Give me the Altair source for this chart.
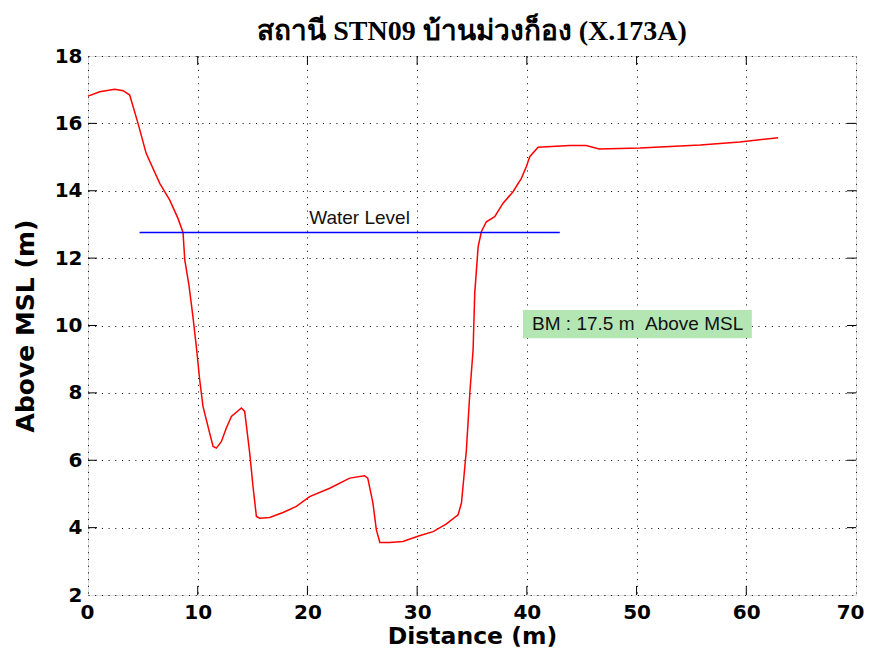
import altair as alt
import pandas as pd

# Cross-section profile (Distance m, Elevation m above MSL)
dist = [0.0, 1.07, 2.43, 3.2, 3.8, 4.56, 5.3, 6.54, 7.44, 8.2, 8.66, 8.82, 9.2, 9.55, 9.9,
        10.18, 10.48, 10.94, 11.4, 11.7, 12.16, 12.6, 13.07, 13.98, 14.28, 14.74, 15.04,
        15.35, 15.65, 16.56, 17.78, 18.99, 20.2, 22.03, 23.85, 25.2, 25.5, 25.97, 26.28,
        26.6, 27.5, 28.7, 30.2, 31.46, 32.67, 33.73, 34.04, 34.49, 34.8, 35.1, 35.25,
        35.56, 35.86, 36.31, 37.07, 37.83, 38.74, 39.5, 39.96, 40.26, 41.02, 43.9, 45.4,
        46.6, 50.3, 55.8, 59.4, 62.9]
elev = [16.81, 16.94, 17.01, 16.97, 16.84, 16.0, 15.11, 14.22, 13.73, 13.18, 12.76, 11.95,
        11.2, 10.3, 9.3, 8.39, 7.6, 7.0, 6.41, 6.36, 6.56, 6.95, 7.3, 7.55, 7.45, 6.21,
        5.22, 4.33, 4.28, 4.3, 4.45, 4.63, 4.92, 5.17, 5.47, 5.54, 5.47, 4.73, 3.94, 3.56,
        3.56, 3.59, 3.76, 3.88, 4.11, 4.38, 4.73, 6.31, 7.99, 9.28, 10.96, 12.34, 12.79,
        13.08, 13.23, 13.63, 13.97, 14.37, 14.72, 15.01, 15.29, 15.34, 15.34, 15.24, 15.27,
        15.36, 15.45, 15.57]

water_x = [4.7, 43.0]
water_level = 12.76
water_label = "Water Level"
water_label_pos = [24.75, 13.2]

bm_label = "BM : 17.5 m \u00a0Above MSL"
bm_label_pos = [50.1, 10.05]
bm_box_x = [39.65, 60.5]
bm_box_y = [9.62, 10.46]

x_ticks = [0, 10, 20, 30, 40, 50, 60, 70]
y_ticks = [2, 4, 6, 8, 10, 12, 14, 16, 18]
x_inner = [10, 20, 30, 40, 50, 60]
y_inner = [4, 6, 8, 10, 12, 14, 16]

title = "สถานี STN09 บ้านม่วงก็อง (X.173A)"

W, H = 768, 539

xs = alt.Scale(domain=[0, 70], nice=False, zero=False)
ys = alt.Scale(domain=[2, 18], nice=False, zero=False)

prof = pd.DataFrame({"d": dist, "e": elev})
wl = pd.DataFrame({"d": water_x, "e": [water_level] * len(water_x)})

base_x_axis = alt.Axis(values=x_ticks, title="Distance (m)", grid=True, gridColor="black",
                       gridDash=[1, 5.7], gridOpacity=1, gridWidth=1, domain=False, ticks=False,
                       labelFont="DejaVu Sans", labelFontWeight="bold", labelFontSize=20,
                       labelColor="black", labelPadding=7, labelFlush=True,
                       labelFlushOffset=8,
                       titleFont="DejaVu Sans", titleFontWeight="bold", titleFontSize=23.5,
                       titleColor="black", titlePadding=2)
base_y_axis = alt.Axis(values=y_ticks, title="Above MSL (m)", grid=True, gridColor="black",
                       gridDash=[1, 5.7], gridOpacity=1, gridWidth=1, domain=False, ticks=False,
                       labelFont="DejaVu Sans", labelFontWeight="bold", labelFontSize=20,
                       labelColor="black", labelPadding=6, labelFlush=False,
                       titleFont="DejaVu Sans", titleFontWeight="bold", titleFontSize=25,
                       titleColor="black", titlePadding=16)

line = alt.Chart(prof).mark_line(color="#ff0000", strokeWidth=1.5).encode(
    x=alt.X("d:Q", scale=xs, axis=base_x_axis),
    y=alt.Y("e:Q", scale=ys, axis=base_y_axis),
    order="d:Q",
)

water = alt.Chart(wl).mark_line(color="#0000ff", strokeWidth=1.5).encode(
    x=alt.X("d:Q", scale=xs), y=alt.Y("e:Q", scale=ys)
)

wtext = alt.Chart(pd.DataFrame({"x": [water_label_pos[0]], "y": [water_label_pos[1]],
                                "t": [water_label]})).mark_text(
    font="Liberation Sans", fontSize=19, color="#111", baseline="middle", align="center"
).encode(x=alt.X("x:Q", scale=xs), y=alt.Y("y:Q", scale=ys), text="t:N")

box = alt.Chart(pd.DataFrame({"x": [bm_box_x[0]], "x2": [bm_box_x[1]],
                              "y": [bm_box_y[0]], "y2": [bm_box_y[1]]})).mark_rect(
    color="#b3e6b3"
).encode(x=alt.X("x:Q", scale=xs), x2="x2:Q", y=alt.Y("y:Q", scale=ys), y2="y2:Q")

btext = alt.Chart(pd.DataFrame({"x": [bm_label_pos[0]], "y": [bm_label_pos[1]],
                                "t": [bm_label]})).mark_text(
    font="Liberation Sans", fontSize=19, color="#111", baseline="middle", align="center"
).encode(x=alt.X("x:Q", scale=xs), y=alt.Y("y:Q", scale=ys), text="t:N")

tx = pd.DataFrame({"v": x_inner})
ty = pd.DataFrame({"v": y_inner})
tick_len = 9
tb = alt.Chart(tx).mark_rule(color="black", strokeWidth=1).encode(
    x=alt.X("v:Q", scale=xs), y=alt.value(H), y2=alt.value(H - tick_len))
tt = alt.Chart(tx).mark_rule(color="black", strokeWidth=1).encode(
    x=alt.X("v:Q", scale=xs), y=alt.value(0), y2=alt.value(tick_len))
tl = alt.Chart(ty).mark_rule(color="black", strokeWidth=1).encode(
    y=alt.Y("v:Q", scale=ys), x=alt.value(0), x2=alt.value(tick_len))
tr = alt.Chart(ty).mark_rule(color="black", strokeWidth=1).encode(
    y=alt.Y("v:Q", scale=ys), x=alt.value(W), x2=alt.value(W - tick_len))

chart = alt.layer(line, tb, tt, tl, tr, water, wtext, box, btext).properties(
    width=W, height=H,
    title=alt.TitleParams(title, font="Liberation Serif", fontSize=28, fontWeight="bold",
                          color="black", anchor="middle", offset=0),
    autosize=alt.AutoSizeParams(type="none"),
    padding={"left": 80, "top": 48, "right": 10, "bottom": 57},
).configure_view(stroke="black", strokeWidth=1.5).configure(background="white")

chart.save("out.html", embed_options={"renderer": "svg", "actions": False})
